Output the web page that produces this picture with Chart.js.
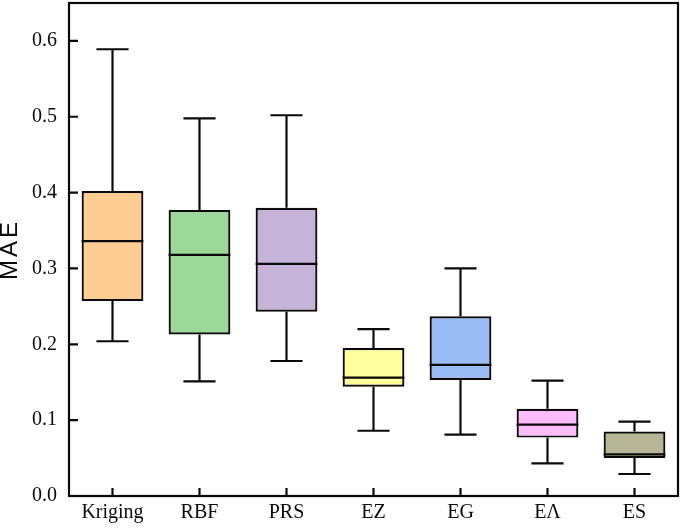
<!DOCTYPE html>
<html lang="en">
<head>
    <meta charset="UTF-8">
    <title>MAE box plot</title>
    <script src="https://cdn.jsdelivr.net/npm/chart.js"></script>
    <style>
        body, html {
            margin: 0;
            padding: 0;
            background: #fff;
        }
        .wrap {
            width: 685px;
            height: 532px;
        }
    </style>
</head>
<body>
    <div class="wrap"><canvas id="boxChart"></canvas></div>

    <script>
        // data
        var categories = ['Kriging', 'RBF', 'PRS', 'EZ', 'EG', 'EΛ', 'ES'];
        var whiskerLow = [0.204, 0.151, 0.178, 0.086, 0.081, 0.043, 0.029];
        var q1 = [0.257, 0.213, 0.243, 0.144, 0.153, 0.077, 0.050];
        var median = [0.336, 0.318, 0.306, 0.156, 0.173, 0.094, 0.055];
        var q3 = [0.402, 0.377, 0.380, 0.195, 0.237, 0.115, 0.085];
        var whiskerHigh = [0.589, 0.498, 0.502, 0.220, 0.300, 0.152, 0.098];
        var yTicks = [0.0, 0.1, 0.2, 0.3, 0.4, 0.5, 0.6];

        var boxColors = ['#ffcc91', '#9dd89b', '#c6b3d8', '#ffff9f', '#9bbdf5', '#ffbcfd', '#b6b697'];

        var serif = '"Liberation Serif", "Times New Roman", serif';
        var sans = '"Liberation Sans", Arial, sans-serif';
        var ink = '#0a0a0a';

        // whiskers, caps and median lines, placed from the bar elements and y scale
        var boxPlot = {
            id: 'boxPlot',
            afterDatasetsDraw: function (chart) {
                var ctx = chart.ctx;
                var y = chart.scales.y;
                var meta = chart.getDatasetMeta(0);
                ctx.save();
                ctx.strokeStyle = ink;
                ctx.lineWidth = 2.2;
                meta.data.forEach(function (bar, i) {
                    var x = bar.x;
                    var half = bar.width / 2;
                    var cap = bar.width * 0.26;
                    ctx.beginPath();
                    ctx.moveTo(x, y.getPixelForValue(q3[i]));
                    ctx.lineTo(x, y.getPixelForValue(whiskerHigh[i]));
                    ctx.moveTo(x - cap, y.getPixelForValue(whiskerHigh[i]));
                    ctx.lineTo(x + cap, y.getPixelForValue(whiskerHigh[i]));
                    ctx.moveTo(x, y.getPixelForValue(q1[i]));
                    ctx.lineTo(x, y.getPixelForValue(whiskerLow[i]));
                    ctx.moveTo(x - cap, y.getPixelForValue(whiskerLow[i]));
                    ctx.lineTo(x + cap, y.getPixelForValue(whiskerLow[i]));
                    ctx.moveTo(x - half, y.getPixelForValue(median[i]));
                    ctx.lineTo(x + half, y.getPixelForValue(median[i]));
                    ctx.stroke();
                });
                ctx.restore();
            }
        };

        // frame and inward tick marks
        var frame = {
            id: 'frame',
            afterDraw: function (chart) {
                var ctx = chart.ctx;
                var a = chart.chartArea;
                var xs = chart.scales.x;
                var ys = chart.scales.y;
                ctx.save();
                ctx.strokeStyle = ink;
                ctx.lineWidth = 2.2;
                ctx.strokeRect(a.left, a.top, a.right - a.left, a.bottom - a.top);
                ctx.beginPath();
                yTicks.forEach(function (v) {
                    var py = ys.getPixelForValue(v);
                    ctx.moveTo(a.left, py);
                    ctx.lineTo(a.left + 9, py);
                });
                categories.forEach(function (c, i) {
                    var px = xs.getPixelForValue(i);
                    ctx.moveTo(px, a.bottom);
                    ctx.lineTo(px, a.bottom - 8);
                });
                ctx.stroke();
                ctx.restore();
            }
        };

        var floating = q1.map(function (v, i) { return [v, q3[i]]; });

        new Chart(document.getElementById('boxChart'), {
            type: 'bar',
            data: {
                labels: categories,
                datasets: [{
                    data: floating,
                    backgroundColor: boxColors,
                    borderColor: ink,
                    borderWidth: 2.2,
                    borderSkipped: false,
                    categoryPercentage: 1,
                    barPercentage: 0.71
                }]
            },
            options: {
                responsive: true,
                maintainAspectRatio: false,
                animation: false,
                layout: { padding: { top: 3, right: 7, left: 0, bottom: 0 } },
                plugins: {
                    legend: { display: false },
                    tooltip: { enabled: false }
                },
                scales: {
                    x: {
                        grid: { display: false, drawTicks: false },
                        border: { display: true, color: ink, width: 2 },
                        ticks: {
                            color: ink,
                            padding: 5,
                            font: { family: serif, size: 20 }
                        },
                        afterFit: function (s) {
                            s.height = 36;
                            s.paddingLeft = 0;
                            s.paddingRight = 0;
                        }
                    },
                    y: {
                        min: 0,
                        max: 0.65,
                        grid: { display: false, drawTicks: false },
                        border: { display: true, color: ink, width: 2 },
                        afterBuildTicks: function (s) {
                            s.ticks = yTicks.map(function (v) { return { value: v }; });
                        },
                        ticks: {
                            color: ink,
                            padding: 12,
                            font: { family: serif, size: 20 },
                            callback: function (v) { return Number(v).toFixed(1); }
                        },
                        title: {
                            display: true,
                            text: 'MAE',
                            color: ink,
                            padding: 0,
                            font: { family: sans, size: 24, lineHeight: 0.9 }
                        },
                        afterFit: function (s) {
                            s.width = 69;
                            s.paddingTop = 0;
                            s.paddingBottom = 0;
                            // the axis title is drawn slightly letter-spaced
                            if (!s._spaced) {
                                var orig = s.drawTitle;
                                s.drawTitle = function () {
                                    var ctx = this.ctx;
                                    ctx.save();
                                    ctx.letterSpacing = '3px';
                                    orig.apply(this, arguments);
                                    ctx.restore();
                                };
                                s._spaced = true;
                            }
                        }
                    }
                }
            },
            plugins: [boxPlot, frame]
        });
    </script>
</body>
</html>
